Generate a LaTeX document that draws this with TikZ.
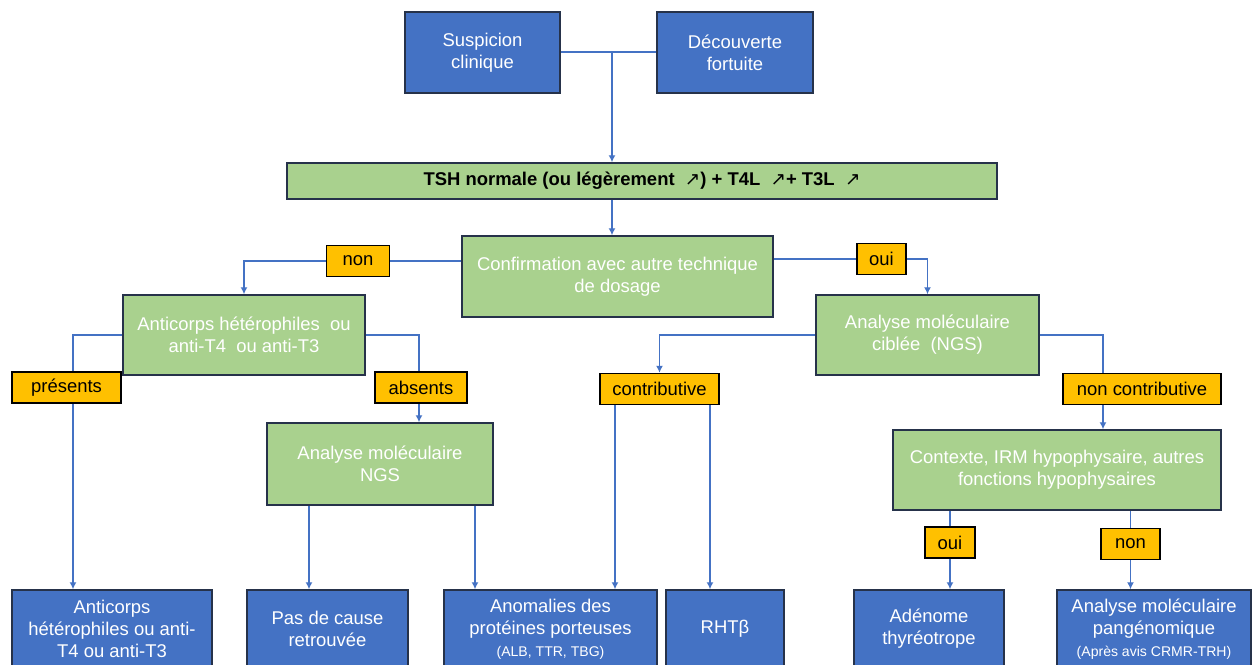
\documentclass[tikz,border=0pt]{standalone}
\usepackage{fontspec}
\setmainfont{Liberation Sans}
\newfontfamily\symb{DejaVu Sans}
\usetikzlibrary{positioning,arrows.meta,backgrounds}

\definecolor{boxblue}{HTML}{4472C4}
\definecolor{boxgreen}{HTML}{A9D18E}
\definecolor{tagorange}{HTML}{FFC000}
\definecolor{boxline}{HTML}{26324A}

\begin{document}
\begin{tikzpicture}[x=0.02cm,y=-0.02cm,node distance=2cm,on grid,
    font=\fontsize{10.5}{12.5}\selectfont,
    bluebox/.style={draw=boxline,line width=0.8pt,fill=boxblue,text=white,align=center,minimum height=1.62cm,inner sep=2pt},
    greenbox/.style={draw=boxline,line width=0.8pt,fill=boxgreen,text=white,align=center,minimum height=1.62cm,inner sep=2pt},
    tag/.style={draw=black,line width=0.8pt,fill=tagorange,text=black,minimum height=0.62cm,inner sep=2pt},
    link/.style={draw=boxblue,line width=0.8pt},
    arr/.style={link,-{Latex[length=4pt,width=4pt]}}]
  \useasboundingbox (0,0) rectangle (1254,665);

  % top
  \node[bluebox,minimum width=3.1cm] (susp) at (482.5,52.5) {Suspicion\\clinique};
  \node[bluebox,minimum width=3.12cm] [right=5.05cm of susp] (decouv) {D\'ecouverte\\fortuite};
  \node[greenbox,text=black,minimum width=14.2cm,minimum height=0.72cm,font=\fontsize{10.5}{12.5}\selectfont\bfseries] (tsh) at (642,181)
    {TSH normale (ou l\'eg\`erement \ {\symb\mdseries ↗}) + T4L \ {\symb\mdseries ↗}+ T3L \ {\symb\mdseries ↗}};
  \node[greenbox,minimum width=6.22cm] (confirm) at (617.5,276.5) {Confirmation avec autre technique\\de dosage};
  \node[tag,minimum width=1.26cm] (non1) at (358,261) {non};
  \node[tag,minimum width=0.98cm] (oui1) at (881.5,259) {oui};

  % left branch
  \node[greenbox,minimum width=4.84cm,minimum height=1.6cm] (anti) at (244,335) {Anticorps h\'et\'erophiles \ ou\\anti-T4 \ ou anti-T3};
  \node[tag,minimum width=2.18cm] (pres) at (66.5,387.5) {pr\'esents};
  \node[tag,minimum width=1.84cm] (abs) at (421,387.5) {absents};
  \node[greenbox,minimum width=4.52cm,minimum height=1.64cm] (ngs) at (380,464) {Analyse mol\'eculaire\\NGS};

  % right branch
  \node[greenbox,minimum width=4.46cm,minimum height=1.6cm] (ciblee) at (927.5,335) {Analyse mol\'eculaire\\cibl\'ee \ (NGS)};
  \node[tag,minimum width=2.38cm] (contrib) at (659.5,389) {contributive};
  \node[tag,minimum width=3.16cm] (noncontrib) at (1142,389) {non contributive};
  \node[greenbox,minimum width=6.56cm,minimum height=1.6cm] (contexte) at (1057,470) {Contexte, IRM hypophysaire, autres\\fonctions hypophysaires};
  \node[tag,minimum width=1.0cm] (oui2) at (950,542.5) {oui};
  \node[tag,minimum width=1.18cm] (non2) at (1130.5,544) {non};

  % results
  \node[bluebox,minimum width=4.0cm,minimum height=1.56cm] (res1) at (112,629) {Anticorps\\h\'et\'erophiles ou anti-\\T4 ou anti-T3};
  \node[bluebox,minimum width=3.22cm,minimum height=1.56cm] (res2) at (327.5,629) {Pas de cause\\retrouv\'ee};
  \node[bluebox,minimum width=4.26cm,minimum height=1.56cm] (res3) at (550.5,629) {Anomalies des\\prot\'eines porteuses\\{\fontsize{8}{10}\selectfont (ALB, TTR, TBG)}};
  \node[bluebox,minimum width=2.36cm,minimum height=1.56cm] (res4) at (725,629) {RHTβ};
  \node[bluebox,minimum width=3.0cm,minimum height=1.56cm] (res5) at (929,629) {Ad\'enome\\thyr\'eotrope};
  \node[bluebox,minimum width=3.88cm,minimum height=1.56cm] (res6) at (1154,629) {Analyse mol\'eculaire\\pang\'enomique\\{\fontsize{8}{10}\selectfont (Apr\`es avis CRMR-TRH)}};

  \coordinate (join) at (612,52);
  \coordinate (pl) at (73,335);
  \coordinate (al) at (419,335);
  \coordinate (nl) at (1103,335);

  \begin{scope}[on background layer]
    \draw[link] (susp.east |- join) -- (decouv.west |- join);
    \draw[arr] (join) -- (join |- tsh.north);
    \draw[arr] (tsh.south -| join) -- (join |- confirm.north);
    \draw[link] (confirm.west |- non1) -- (non1);
    \draw[arr] (non1) -| (anti.north);
    \draw[link] (confirm.east |- oui1) -- (oui1);
    \draw[arr] (oui1) -| (ciblee.north);
    \draw[arr] (anti.west) -- (pl) -- (pl |- res1.north);
    \draw[arr] (anti.east) -- (al) -- (al |- ngs.north);
    \draw[arr] (ngs.south -| 309,0) -- (res2.north -| 309,0);
    \draw[arr] (ngs.south -| 475,0) -- (res3.north -| 475,0);
    \draw[arr] (ciblee.west) -| (contrib.north);
    \draw[arr] (contrib.south -| 615,0) -- (res3.north -| 615,0);
    \draw[arr] (contrib.south -| 710,0) -- (res4.north -| 710,0);
    \draw[arr] (ciblee.east) -- (nl) -- (nl |- contexte.north);
    \draw[arr] (contexte.south -| oui2) -- (oui2 |- res5.north);
    \draw[arr] (contexte.south -| non2) -- (non2 |- res6.north);
  \end{scope}
\end{tikzpicture}
\end{document}
